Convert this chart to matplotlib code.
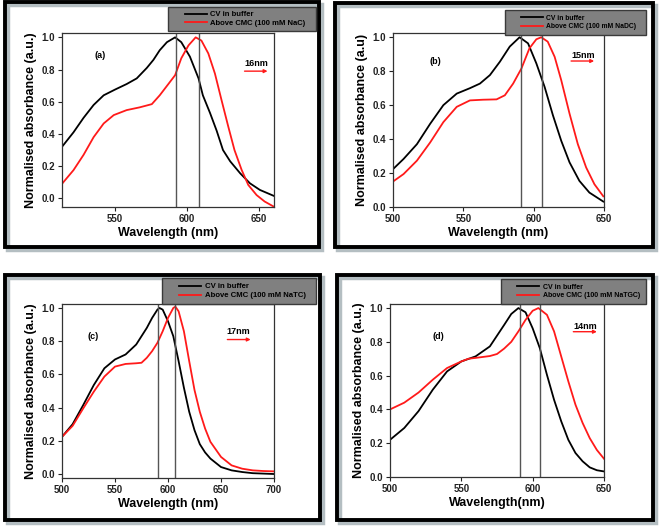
import matplotlib

matplotlib.use("Agg")
import matplotlib.pyplot as plt
from matplotlib.lines import Line2D
from matplotlib.patches import Rectangle

plt.rcParams["font.family"] = ["Liberation Sans", "DejaVu Sans"]
plt.rcParams["font.weight"] = "bold"

W, H = 661, 530

# ---- panel (a) : NaC ----
a_wl_k = [513, 521, 528, 535, 542, 550, 558, 565, 572, 576.6, 581, 586, 591.7, 596,
          602, 608, 611, 616, 620.6, 625, 630, 637, 643.8, 650.7, 660.4]
a_k = [0.32, 0.41, 0.50, 0.58, 0.64, 0.676, 0.71, 0.745, 0.81, 0.86, 0.92, 0.97, 1.0,
       0.97, 0.88, 0.745, 0.64, 0.53, 0.42, 0.30, 0.23, 0.155, 0.093, 0.052, 0.015]
a_wl_r = [513, 521, 528, 535, 542, 549, 558, 567, 575.5, 581, 587, 591.7, 596, 601,
          606, 610, 614.8, 619.4, 624, 628.7, 633, 638, 642.6, 648.4, 654, 660.4]
a_r = [0.09, 0.175, 0.27, 0.38, 0.465, 0.517, 0.548, 0.565, 0.585, 0.64, 0.71, 0.765,
       0.87, 0.95, 1.0, 0.98, 0.90, 0.775, 0.61, 0.445, 0.30, 0.176, 0.083, 0.02,
       -0.02, -0.052]

# ---- panel (b) : NaDC ----
b_wl_k = [500, 507.5, 517, 526.4, 535.8, 545.3, 554.7, 561.8, 568.9, 576, 583, 590,
          596, 601.9, 607.8, 613.7, 619.6, 625.5, 632.5, 639.6, 649.5]
b_k = [0.223, 0.283, 0.37, 0.49, 0.60, 0.668, 0.70, 0.727, 0.777, 0.856, 0.945, 1.0,
       0.964, 0.846, 0.707, 0.54, 0.39, 0.263, 0.154, 0.085, 0.032]
b_wl_r = [500, 507.5, 517, 526.4, 535.8, 545.3, 554.7, 564, 573.6, 579.5, 585.4, 591.3,
          597, 601.9, 605.4, 610, 614.9, 619.6, 625.5, 631.4, 637.3, 643.2, 649.5]
b_r = [0.15, 0.194, 0.273, 0.38, 0.50, 0.59, 0.628, 0.632, 0.634, 0.658, 0.727, 0.816,
       0.935, 0.988, 1.0, 0.974, 0.885, 0.747, 0.55, 0.37, 0.233, 0.134, 0.063]

# ---- panel (c) : NaTC ----
c_wl_k = [500, 510, 520, 530, 540, 550, 560, 570, 580, 585, 590, 592, 595, 600, 605,
          610, 615, 620, 625, 630, 635, 640, 650, 660, 670, 680, 700]
c_k = [0.224, 0.30, 0.415, 0.536, 0.637, 0.69, 0.72, 0.78, 0.88, 0.94, 0.99, 1.0, 0.99,
       0.92, 0.83, 0.68, 0.52, 0.375, 0.264, 0.18, 0.13, 0.093, 0.042, 0.022, 0.012,
       0.005, 0.0]
c_wl_r = [500, 510, 520, 530, 540, 550, 560, 570, 575, 580, 585, 590, 595, 600, 605,
          607, 610, 615, 620, 625, 630, 635, 640, 650, 660, 670, 680, 690, 700]
c_r = [0.224, 0.29, 0.395, 0.496, 0.587, 0.647, 0.663, 0.667, 0.67, 0.70, 0.74, 0.79,
       0.86, 0.94, 1.0, 1.008, 0.98, 0.86, 0.68, 0.506, 0.375, 0.274, 0.194, 0.103,
       0.052, 0.032, 0.022, 0.018, 0.016]

# ---- panel (d) : NaTGC ----
d_wl_k = [500, 510, 520, 530, 540, 550, 560, 570, 580, 585, 590, 595, 600, 605, 610,
          615, 620, 625, 630, 635, 640, 645, 650]
d_k = [0.22, 0.29, 0.39, 0.517, 0.625, 0.684, 0.714, 0.773, 0.90, 0.965, 1.0, 0.975,
       0.88, 0.763, 0.605, 0.457, 0.33, 0.22, 0.142, 0.093, 0.057, 0.04, 0.033]
d_wl_r = [500, 510, 520, 530, 540, 550, 555, 560, 570, 575, 580, 585, 590, 595, 600,
          604, 610, 615, 620, 625, 630, 635, 640, 645, 650]
d_r = [0.40, 0.44, 0.50, 0.576, 0.645, 0.684, 0.70, 0.705, 0.716, 0.728, 0.76, 0.80,
       0.862, 0.93, 0.984, 1.0, 0.96, 0.862, 0.714, 0.566, 0.428, 0.32, 0.23, 0.16,
       0.108]

panels = [
    dict(tag="(a)", surf="NaC", shift="16nm", wk=a_wl_k, k=a_k, wr=a_wl_r, r=a_r,
         peaks=(592, 608), xlim=(513, 660.5), ylim=(-0.054, 1.027), xt=[550, 600, 650],
         ylab="Normalised absorbance (a.u.)", xlab="Wavelength (nm)",
         tagxy=(539.6, 0.89), txt=(648, 0.84), arr=(640, 656, 0.79),
         ax=(62, 33, 274, 207), frame=(5, 2, 319, 247), leg=(168, 7, 316, 31),
         lfs=5.5, lpad=12),
    dict(tag="(b)", surf="NaDC", shift="15nm", wk=b_wl_k, k=b_k, wr=b_wl_r, r=b_r,
         peaks=(591, 606), xlim=(500, 650), ylim=(0, 1.025), xt=[500, 550, 600, 650],
         ylab="Normalised absorbance (a.u)", xlab="Wavelength (nm)",
         tagxy=(530, 0.856), txt=(635, 0.895), arr=(626.6, 643, 0.86),
         ax=(393, 33, 604, 207), frame=(335, 3, 653, 247), leg=(505, 10, 646, 35),
         lfs=4.9, lpad=12),
    dict(tag="(c)", surf="NaTC", shift="17nm", wk=c_wl_k, k=c_k, wr=c_wl_r, r=c_r,
         peaks=(591, 607), xlim=(500, 700), ylim=(-0.024, 1.024),
         xt=[500, 550, 600, 650, 700],
         ylab="Normalised absorbance (a.u.)", xlab="Wavelength (nm)",
         tagxy=(529, 0.83), txt=(666, 0.86), arr=(656, 678, 0.81),
         ax=(62, 304, 274, 478), frame=(5, 275, 320, 520), leg=(162, 278, 316, 304),
         lfs=5.6, lpad=12),
    dict(tag="(d)", surf="NaTGC", shift="14nm", wk=d_wl_k, k=d_k, wr=d_wl_r, r=d_r,
         peaks=(591, 605), xlim=(500, 650), ylim=(0, 1.024), xt=[500, 550, 600, 650],
         ylab="Normalised absorbance (a.u.)", xlab="Wavelength(nm)",
         tagxy=(534, 0.83), txt=(637, 0.89), arr=(628.5, 645, 0.86),
         ax=(390, 304, 604, 477), frame=(337, 275, 653, 520), leg=(501, 279, 646, 304),
         lfs=5.0, lpad=12),
]


def frac(l, t, r, b):
    return l / W, 1 - b / H, (r - l) / W, (b - t) / H


fig = plt.figure(figsize=(W / 100, H / 100), dpi=100)
fig.patch.set_facecolor("white")

for p in panels:
    # framed box with a soft shadow
    x0, y0, w, h = frac(*p["frame"])
    fig.add_artist(Rectangle((x0 + 3 / W, y0 - 3 / H), w, h, transform=fig.transFigure,
                             fill=False, ec="#b4bec2", lw=3.2, zorder=-2))
    fig.add_artist(Rectangle((x0, y0), w, h, transform=fig.transFigure,
                             fill=False, ec="black", lw=2.8, zorder=-1))

    ax = fig.add_axes(frac(*p["ax"]))
    ax.plot(p["wk"], p["k"], color="black", lw=1.3)
    ax.plot(p["wr"], p["r"], color="#ff1a1a", lw=1.3)
    for pk in p["peaks"]:
        ax.axvline(pk, color="#555555", lw=1.0)
    ax.set_xlim(*p["xlim"])
    ax.set_ylim(*p["ylim"])
    ax.set_xticks(p["xt"])
    ax.set_yticks([0.0, 0.2, 0.4, 0.6, 0.8, 1.0])
    ax.set_yticklabels([f"{v:.1f}" for v in ax.get_yticks()])
    ax.tick_params(direction="out", length=3, width=0.8, labelsize=7, pad=2,
                   colors="#222222")
    for s in ax.spines.values():
        s.set_color("#333333")
        s.set_linewidth(0.9)
    ax.set_xlabel(p["xlab"], fontsize=9, fontweight="bold", labelpad=2)
    ax.set_ylabel(p["ylab"], fontsize=9, fontweight="bold", labelpad=3)
    ax.text(*p["tagxy"], p["tag"], fontsize=6.5, fontweight="bold", ha="center",
            va="center")
    ax.text(*p["txt"], p["shift"], fontsize=6.5, fontweight="bold", ha="center",
            va="center")
    x1, x2, ya = p["arr"]
    ax.annotate("", xy=(x2, ya), xytext=(x1, ya),
                arrowprops=dict(arrowstyle="-|>", color="#ff1a1a", lw=1.0,
                                mutation_scale=5, shrinkA=0, shrinkB=0))

    # grey legend box
    l, t, r, b = p["leg"]
    lx, ly, lw_, lh = frac(l, t, r, b)
    fig.add_artist(Rectangle((lx, ly), lw_, lh, transform=fig.transFigure,
                             fc="#808080", ec="#3a3a3a", lw=1.0, zorder=5))
    handles = [Line2D([], [], color="black", lw=1.3),
               Line2D([], [], color="#ff1a1a", lw=1.3)]
    fs = p["lfs"]
    leg = fig.legend(handles, ["CV in buffer", f"Above CMC (100 mM {p['surf']})"],
                     loc="center left",
                     bbox_to_anchor=((l + p["lpad"]) / W, 1 - (t + b) / 2 / H),
                     frameon=False, handlelength=22 / (fs * 100 / 72),
                     handletextpad=0.5, labelspacing=0.2, borderpad=0.1,
                     prop=dict(weight="bold", size=fs))
    leg.set_zorder(6)

fig.savefig("out.png", dpi=100)
